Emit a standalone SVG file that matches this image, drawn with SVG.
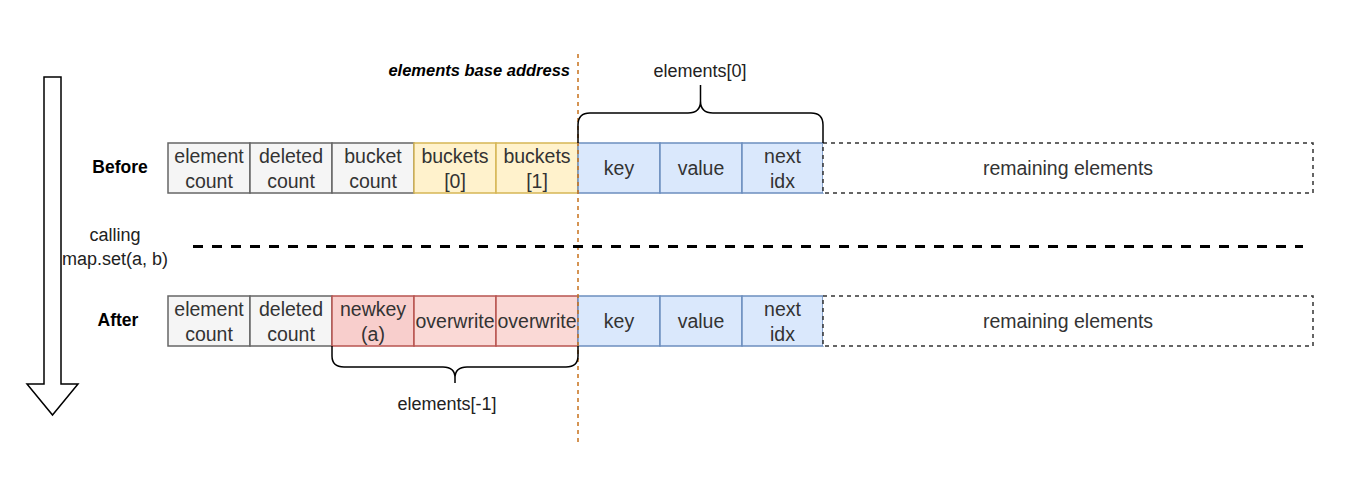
<svg xmlns="http://www.w3.org/2000/svg" width="1356" height="496" viewBox="0 0 1356 496">
<style>
text{font-family:"Liberation Sans",Arial,sans-serif;dominant-baseline:central;text-anchor:middle}
.c{font-size:19.5px;fill:#333333}
.lbl{font-size:18px;fill:#222222}
.b{font-size:17.5px;font-weight:bold;fill:#000}
.gray{fill:#f5f5f5;stroke:#666666;stroke-width:1.5}
.yel{fill:#fff2cc;stroke:#d6b656;stroke-width:1.5}
.blue{fill:#dae8fc;stroke:#6c8ebf;stroke-width:1.5}
.red{fill:#f8cecc;stroke:#b85450;stroke-width:1.5}
.red2{fill:#fad9d6;stroke:#b85450;stroke-width:1.5}
.rem{fill:#ffffff;stroke:#333333;stroke-width:1.5;stroke-dasharray:4 4}
.brace{fill:none;stroke:#000;stroke-width:1.5}
</style>
<rect width="1356" height="496" fill="#ffffff"/>

<g id="time-arrow">
<polygon points="44,77 61,77 61,384 78,384 52.5,415 27,384 44,384" fill="#ffffff" stroke="#000" stroke-width="1.5"/>
</g>

<g id="label-before"><text class="b" x="120" y="167">Before</text></g>
<g id="label-after"><text class="b" x="118" y="320">After</text></g>
<g id="label-calling">
<text class="lbl" x="115" y="235">calling</text>
<text class="lbl" x="115" y="259">map.set(a, b)</text>
</g>

<g id="before-row">
<g id="b-element-count"><rect class="gray" x="168" y="143" width="82" height="50"/><text class="c" x="209" y="155.5">element</text><text class="c" x="209" y="180.5">count</text></g>
<g id="b-deleted-count"><rect class="gray" x="250" y="143" width="82" height="50"/><text class="c" x="291" y="155.5">deleted</text><text class="c" x="291" y="180.5">count</text></g>
<g id="b-bucket-count"><rect class="gray" x="332" y="143" width="82" height="50"/><text class="c" x="373" y="155.5">bucket</text><text class="c" x="373" y="180.5">count</text></g>
<g id="b-buckets0"><rect class="yel" x="414" y="143" width="82" height="50"/><text class="c" x="455" y="155.5">buckets</text><text class="c" x="455" y="180.5">[0]</text></g>
<g id="b-buckets1"><rect class="yel" x="496" y="143" width="82" height="50"/><text class="c" x="537" y="155.5">buckets</text><text class="c" x="537" y="180.5">[1]</text></g>
<g id="b-key"><rect class="blue" x="578" y="143" width="82" height="50"/><text class="c" x="619" y="168">key</text></g>
<g id="b-value"><rect class="blue" x="660" y="143" width="82" height="50"/><text class="c" x="701" y="168">value</text></g>
<g id="b-next"><rect class="blue" x="742" y="143" width="81" height="50"/><text class="c" x="782.5" y="155.5">next</text><text class="c" x="782.5" y="180.5">idx</text></g>
<g id="b-remaining"><rect class="rem" x="823" y="143" width="490" height="50"/><text class="c" x="1068" y="168">remaining elements</text></g>
</g>

<g id="after-row">
<g id="a-element-count"><rect class="gray" x="168" y="296" width="82" height="50"/><text class="c" x="209" y="308.5">element</text><text class="c" x="209" y="333.5">count</text></g>
<g id="a-deleted-count"><rect class="gray" x="250" y="296" width="82" height="50"/><text class="c" x="291" y="308.5">deleted</text><text class="c" x="291" y="333.5">count</text></g>
<g id="a-newkey"><rect class="red" x="332" y="296" width="82" height="50"/><text class="c" x="373" y="308.5">newkey</text><text class="c" x="373" y="333.5">(a)</text></g>
<g id="a-overwrite1"><rect class="red2" x="414" y="296" width="82" height="50"/><text class="c" x="455" y="321">overwrite</text></g>
<g id="a-overwrite2"><rect class="red2" x="496" y="296" width="82" height="50"/><text class="c" x="537" y="321">overwrite</text></g>
<g id="a-key"><rect class="blue" x="578" y="296" width="82" height="50"/><text class="c" x="619" y="321">key</text></g>
<g id="a-value"><rect class="blue" x="660" y="296" width="82" height="50"/><text class="c" x="701" y="321">value</text></g>
<g id="a-next"><rect class="blue" x="742" y="296" width="81" height="50"/><text class="c" x="782.5" y="308.5">next</text><text class="c" x="782.5" y="333.5">idx</text></g>
<g id="a-remaining"><rect class="rem" x="823" y="296" width="490" height="50"/><text class="c" x="1068" y="321">remaining elements</text></g>
</g>

<g id="connectors">
<line id="base-address-line" x1="578" y1="54" x2="578" y2="443" stroke="#c8711b" stroke-width="1.5" stroke-dasharray="4 4"/>
<line id="call-divider" x1="193" y1="246.5" x2="1303" y2="246.5" stroke="#000" stroke-width="3" stroke-dasharray="10 9"/>
<path id="brace-elements0" class="brace" d="M578,143 V125 Q578,113 590,113 H688 Q700.5,113 700.5,101 V85 M700.5,101 Q700.5,113 713,113 H811 Q823,113 823,125 V143"/>
<path id="brace-elements-1" class="brace" d="M332,346 V356 Q332,367 344,367 H443 Q455,367 455,378 V383 M455,378 Q455,367 467,367 H566 Q578,367 578,356 V346"/>
</g>

<g id="label-base-address"><text x="570" y="70" style="font-size:16.5px;font-weight:bold;font-style:italic;text-anchor:end;fill:#000">elements base address</text></g>
<g id="label-elements0"><text class="lbl" x="700" y="71">elements[0]</text></g>
<g id="label-elements-1"><text class="lbl" x="447" y="404">elements[-1]</text></g>
</svg>
